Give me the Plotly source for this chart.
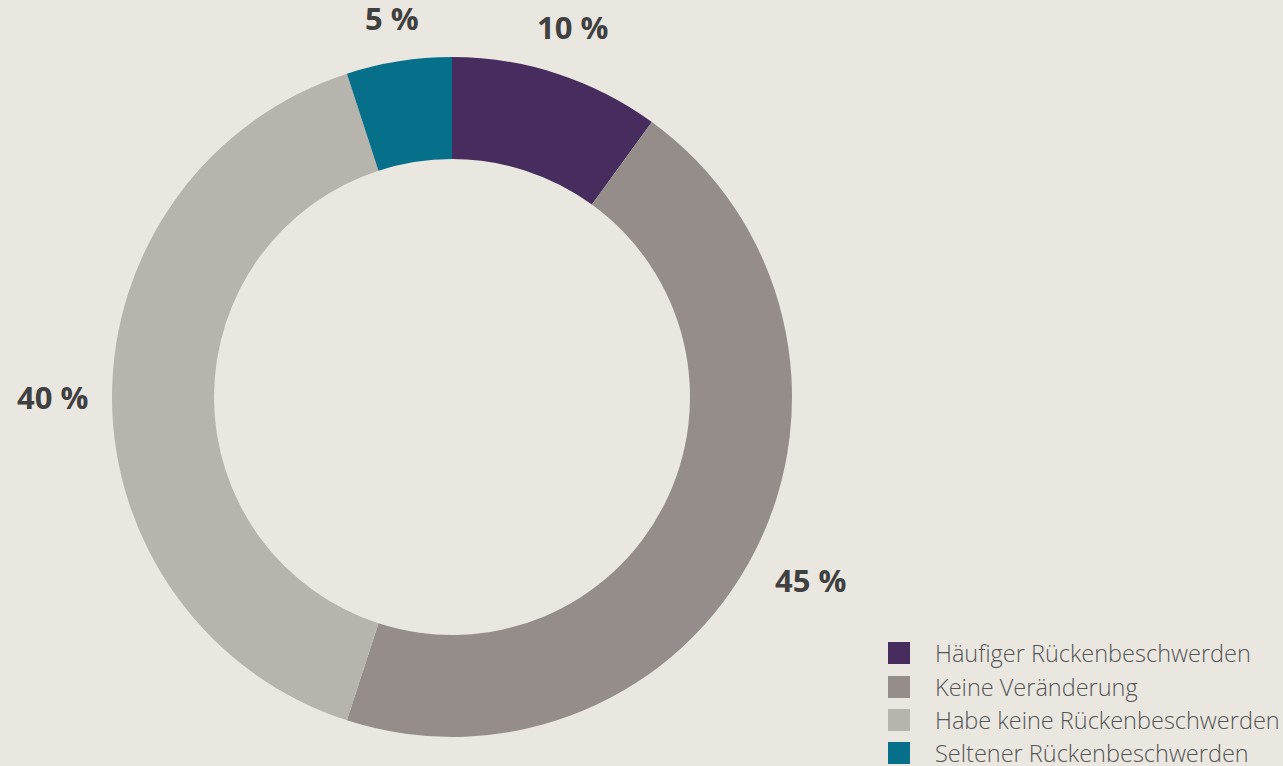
import numpy as np
import plotly.graph_objects as go

categories = ["Häufiger Rückenbeschwerden", "Keine Veränderung",
              "Habe keine Rückenbeschwerden", "Seltener Rückenbeschwerden"]
values = [10, 45, 40, 5]
label_texts = ["10 %", "45 %", "40 %", "5 %"]
colors = ["#472d5e", "#958d8a", "#b7b4ae", "#06708a"]

W, H = 1283, 766
BG = "#eae7e1"
cx, cy, R = 452, 397, 340  # pie centre / radius in px

fig = go.Figure()
fig.add_trace(go.Pie(
    labels=categories, values=values, sort=False, direction="clockwise",
    rotation=0, hole=0.70, textinfo="none", hoverinfo="label+percent",
    marker=dict(colors=colors, line=dict(width=0)),
    domain=dict(x=[(cx - R) / W, (cx + R) / W],
                y=[1 - (cy + R) / H, 1 - (cy - R) / H]),
    showlegend=False,
))

# value labels outside the ring, at each slice's mid-angle;
# label box kept a fixed gap from the ring
vals = np.array(values, dtype=float)
mids = (np.cumsum(vals) - vals / 2) / vals.sum() * 2 * np.pi
gap_r, half_w, half_h = 366, 34, 13
annotations = []
for t, a in zip(label_texts, mids):
    s, c = np.sin(a), np.cos(a)
    dist = gap_r + abs(s) * half_w + abs(c) * half_h
    px = cx + dist * s
    py = cy - dist * c
    annotations.append(dict(
        x=px / W, y=1 - py / H, xref="paper", yref="paper", text=t,
        showarrow=False, xanchor="center", yanchor="middle",
        font=dict(family="Open Sans", size=31, color="#404040", weight="bold"),
    ))

# legend (squares + text) built from categories/colors
shapes = []
row_y = [653, 687, 720, 753]
for name, col, ry in zip(categories, colors, row_y):
    shapes.append(dict(type="rect", xref="paper", yref="paper",
                       x0=888 / W, x1=910 / W, y0=1 - (ry + 11) / H, y1=1 - (ry - 11) / H,
                       fillcolor=col, line=dict(width=0)))
    annotations.append(dict(
        x=933 / W, y=1 - ry / H, xref="paper", yref="paper", text=name,
        showarrow=False, xanchor="left", yanchor="middle",
        font=dict(family="Open Sans", size=23.5, color="#555555", weight=300),
    ))

fig.update_layout(
    width=W, height=H, paper_bgcolor=BG, plot_bgcolor=BG,
    margin=dict(l=0, r=0, t=0, b=0),
    annotations=annotations, shapes=shapes,
)
fig.write_html("out.html",
               config={"displayModeBar": False},
               post_script="document.body.style.margin='0px';"
                           "document.body.style.background='#eae7e1';"
                           "document.body.style.overflow='hidden';")
